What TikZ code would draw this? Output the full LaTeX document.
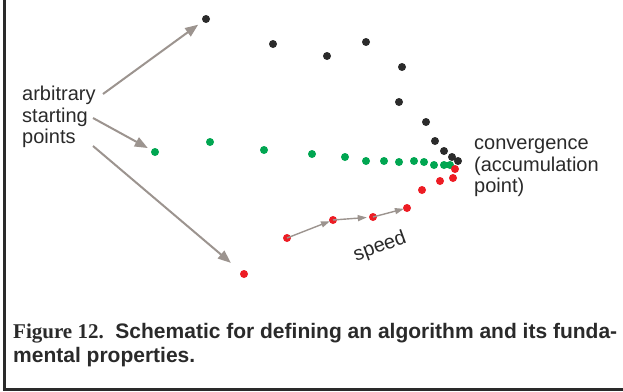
\documentclass[tikz,border=0pt]{standalone}
\usepackage{fontspec}
\setmainfont{Liberation Sans}
\newfontfamily\figfont{Liberation Serif}
\usepackage{xcolor}
\usetikzlibrary{arrows.meta}
\definecolor{dotblack}{HTML}{2B2B2B}
\definecolor{dotgreen}{HTML}{00A651}
\definecolor{dotred}{HTML}{ED1C24}
\definecolor{arrowgray}{HTML}{9C948F}
\definecolor{textgray}{HTML}{2A2A2A}
\newcommand{\dt}[4]{\node[dot,fill=#4] (#1) at (#2,#3) {};}

\begin{document}
\begin{tikzpicture}[x=1pt,y=-1pt,
  dot/.style={circle,inner sep=0pt,minimum size=8pt},
  pointer/.style={draw=arrowgray,line width=2pt,-{Triangle[length=13pt,width=10pt]}},
  speedarrow/.style={draw=arrowgray,line width=1.4pt,-{Triangle[length=9pt,width=6pt]}},
  lbl/.style={inner sep=0pt,text=textgray,font=\fontsize{20}{21.5}\selectfont,align=left}]
\useasboundingbox (0,0) rectangle (623,391);

% frame
\draw[line width=3pt,textgray] (4.5,0) -- (4.5,389.5) -- (623,389.5);

% green path
\dt{g1}{155}{152}{dotgreen}
\dt{g2}{210}{142}{dotgreen}
\dt{g3}{264}{150}{dotgreen}
\dt{g4}{312}{154}{dotgreen}
\dt{g5}{345}{157}{dotgreen}
\dt{g6}{366}{161}{dotgreen}
\dt{g7}{384}{161}{dotgreen}
\dt{g8}{399}{162}{dotgreen}
\dt{g9}{414}{161}{dotgreen}
\dt{g10}{424}{162}{dotgreen}
\dt{g11}{434}{165}{dotgreen}
\dt{g12}{444}{165}{dotgreen}
\dt{g13}{450}{165}{dotgreen}

% black path
\dt{b1}{206}{19}{dotblack}
\dt{b2}{273}{44}{dotblack}
\dt{b3}{327}{56}{dotblack}
\dt{b4}{366}{42}{dotblack}
\dt{b5}{402}{67}{dotblack}
\dt{b6}{399}{102}{dotblack}
\dt{b7}{426}{122}{dotblack}
\dt{b8}{435}{141}{dotblack}
\dt{b9}{444}{151}{dotblack}
\dt{b10}{452}{157}{dotblack}
\dt{b11}{458}{161}{dotblack}

% red path
\dt{r1}{244}{274}{dotred}
\dt{r2}{287}{238}{dotred}
\dt{r3}{333}{220}{dotred}
\dt{r4}{373}{217}{dotred}
\dt{r5}{407}{208}{dotred}
\dt{r6}{422}{190}{dotred}
\dt{r7}{440}{181}{dotred}
\dt{r8}{453}{178}{dotred}
\dt{r9}{455}{169}{dotred}

% labels
\node[lbl,anchor=north west] (start) at (22,86) {arbitrary\\starting\\points};
\node[lbl,anchor=north west] (conv) at (474,139) {convergence\\(accumulation\\point)};
\node[lbl,rotate=20] (speed) at (380,247) {speed};

\coordinate (s1) at (103,94);
\coordinate (s2) at (93,118);
\coordinate (s3) at (93,146);
\draw[pointer,shorten >=5.5pt] (s1) -- (b1);
\draw[pointer,shorten >=4pt] (s2) -- (g1);
\draw[pointer,shorten >=13pt] (s3) -- (r1);

\draw[speedarrow,shorten >=-1pt] (r2.center) -- (r3);
\draw[speedarrow,shorten >=2pt] (r3.center) -- (r4);
\draw[speedarrow,shorten >=-1pt] (r4.center) -- (r5);

% caption
\node[inner sep=0pt,anchor=north west,align=left,text=textgray,
  font=\fontsize{21}{24}\selectfont\bfseries] (cap) at (13,323)
  {{\figfont Figure 12.}\ \ Schematic for defining an algorithm and its funda-\\mental properties.};
\end{tikzpicture}
\end{document}
